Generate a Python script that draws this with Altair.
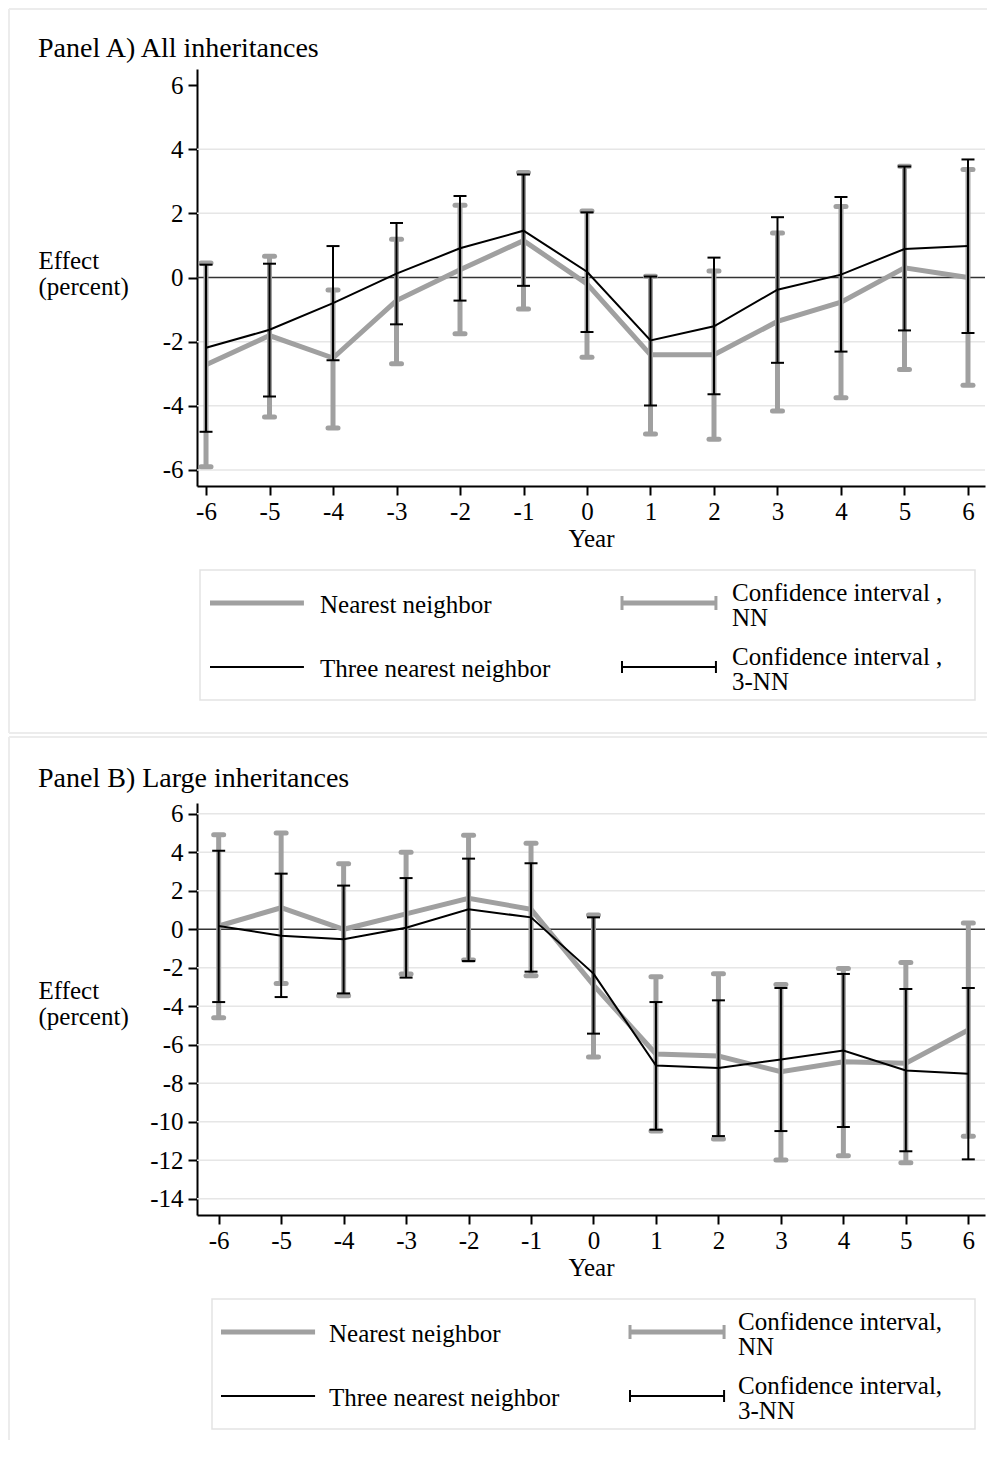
import altair as alt
import pandas as pd

# ---------------- data ----------------
years = [-6, -5, -4, -3, -2, -1, 0, 1, 2, 3, 4, 5, 6]
a_y_ticks = [-6, -4, -2, 0, 2, 4, 6]
b_y_ticks = [-14, -12, -10, -8, -6, -4, -2, 0, 2, 4, 6]
a_grid = [-6, -4, -2, 2, 4]
b_grid = [-14, -12, -10, -8, -6, -4, -2, 2, 4, 6]

# Panel A: all inheritances
a_nn = [-2.72, -1.81, -2.51, -0.72, 0.24, 1.15, -0.20, -2.41, -2.41, -1.37, -0.77, 0.30, 0.00]
a_nn_hi = [0.45, 0.66, -0.39, 1.19, 2.25, 3.27, 2.07, 0.04, 0.20, 1.39, 2.21, 3.47, 3.37]
a_nn_lo = [-5.90, -4.35, -4.69, -2.69, -1.75, -0.98, -2.49, -4.88, -5.04, -4.16, -3.75, -2.87, -3.36]
a_tnn = [-2.19, -1.63, -0.80, 0.12, 0.91, 1.46, 0.18, -1.96, -1.52, -0.38, 0.09, 0.89, 0.98]
a_tnn_hi = [0.40, 0.43, 0.98, 1.70, 2.54, 3.21, 2.03, 0.03, 0.62, 1.88, 2.51, 3.46, 3.68]
a_tnn_lo = [-4.81, -3.71, -2.58, -1.46, -0.72, -0.26, -1.70, -3.99, -3.64, -2.66, -2.31, -1.65, -1.73]

# Panel B: large inheritances
b_nn = [0.17, 1.12, 0.00, 0.80, 1.61, 1.04, -2.90, -6.48, -6.58, -7.40, -6.88, -6.96, -5.23]
b_nn_hi = [4.91, 5.00, 3.41, 4.00, 4.88, 4.47, 0.74, -2.46, -2.31, -2.87, -2.04, -1.73, 0.33]
b_nn_lo = [-4.59, -2.82, -3.45, -2.32, -1.60, -2.41, -6.63, -10.48, -10.89, -11.98, -11.76, -12.12, -10.75]
b_tnn = [0.17, -0.33, -0.52, 0.08, 1.04, 0.62, -2.30, -7.08, -7.20, -6.76, -6.30, -7.33, -7.50]
b_tnn_hi = [4.08, 2.89, 2.27, 2.66, 3.67, 3.43, 0.62, -3.78, -3.69, -3.05, -2.32, -3.10, -3.05]
b_tnn_lo = [-3.78, -3.52, -3.33, -2.51, -1.65, -2.20, -5.42, -10.41, -10.74, -10.48, -10.27, -11.53, -11.95]

a_title = "Panel A) All inheritances"
b_title = "Panel B) Large inheritances"
y_title = ["Effect", "(percent)"]
x_title = "Year"
a_legend_labels = ["Nearest neighbor", "Confidence interval ,\nNN",
                   "Three nearest neighbor", "Confidence interval ,\n3-NN"]
b_legend_labels = ["Nearest neighbor", "Confidence interval,\nNN",
                   "Three nearest neighbor", "Confidence interval,\n3-NN"]
legend_rows = [0, 0, 1, 1]
legend_cols = [0, 1, 0, 1]

# ---------------- style ----------------
GRAY = "#a0a0a0"
FONT = "Liberation Serif"
W = 788
LABEL_EXPR = "'' + datum.value"
FRAME_RIGHT = 790


def make_plot(nn, nn_lo, nn_hi, tnn, tnn_lo, tnn_hi, title, title_offset,
              xdom, ydom, yticks, grid_vals, ytitle_y, height):
    df = pd.DataFrame({"year": years, "nn": nn, "nn_lo": nn_lo, "nn_hi": nn_hi,
                       "tnn": tnn, "tnn_lo": tnn_lo, "tnn_hi": tnn_hi})
    xs = alt.Scale(domain=xdom, nice=False, zero=False)
    ys = alt.Scale(domain=ydom, nice=False, zero=False)
    xenc = alt.X("year:Q", scale=xs,
                 axis=alt.Axis(values=years, title=x_title, grid=False,
                               labelExpr=LABEL_EXPR, labelPadding=4,
                               titlePadding=2, labelFlush=False,
                               labelOverlap=False))
    yaxis = alt.Axis(values=yticks, title=y_title, titleAngle=0,
                     titleAlign="left", titleBaseline="alphabetic",
                     titleX=-159, titleY=ytitle_y, titleLineHeight=26,
                     grid=False, labelExpr=LABEL_EXPR, labelPadding=5,
                     labelFlush=False, labelOverlap=False)

    def Y(field):
        return alt.Y(f"{field}:Q", scale=ys, axis=yaxis)

    grid = (alt.Chart(pd.DataFrame({"g": grid_vals}))
            .mark_rule(color="#e6e6e6", strokeWidth=1.5)
            .encode(y=Y("g")))
    base = alt.Chart(df).encode(x=xenc)
    zero = (alt.Chart(df).transform_filter("datum.year == 0")
            .transform_calculate(z="0")
            .mark_rule(color="#333333", strokeWidth=1.5)
            .encode(y=Y("z")))

    gray_ci = base.mark_rule(color=GRAY, strokeWidth=5).encode(
        y=Y("nn_lo"), y2="nn_hi:Q")
    gcap = dict(shape="M-1,0H1", size=100, strokeWidth=5, color=GRAY,
                strokeCap="round", filled=False, opacity=1)
    gray_cap_lo = base.mark_point(**gcap).encode(y=Y("nn_lo"))
    gray_cap_hi = base.mark_point(**gcap).encode(y=Y("nn_hi"))
    gray_line = base.mark_line(color=GRAY, strokeWidth=5).encode(y=Y("nn"))

    black_ci = base.mark_rule(color="black", strokeWidth=2).encode(
        y=Y("tnn_lo"), y2="tnn_hi:Q")
    bcap = dict(shape="M-1,0H1", size=169, strokeWidth=2, color="black",
                filled=False, opacity=1)
    black_cap_lo = base.mark_point(**bcap).encode(y=Y("tnn_lo"))
    black_cap_hi = base.mark_point(**bcap).encode(y=Y("tnn_hi"))
    black_line = base.mark_line(color="black", strokeWidth=2).encode(y=Y("tnn"))

    return alt.layer(grid, zero, gray_ci, gray_cap_lo, gray_cap_hi, gray_line,
                     black_ci, black_cap_lo, black_cap_hi, black_line).properties(
        width=W, height=height,
        title=alt.TitleParams(title, offset=title_offset))


def make_legend(labels, box_left, col_range, sym_len, text_dx, height,
                border_top, border_bottom, draw_bottom):
    df = pd.DataFrame({"label": labels, "row": legend_rows,
                       "col": legend_cols, "entry": [0, 1, 2, 3]})
    xs = alt.Scale(domain=[0, 1], range=col_range)
    ys = alt.Scale(domain=[0, 1], range=[33, 97])
    base = alt.Chart(df).transform_calculate(xe=f"datum.col + {sym_len}").encode(
        x=alt.X("col:Q", scale=xs, axis=None),
        y=alt.Y("row:Q", scale=ys, axis=None))
    one = alt.Chart(df).transform_filter("datum.entry == 0")

    layers = []
    # panel frame (decoration)
    layers.append(one.mark_rule(color="#ececec", strokeWidth=2).encode(
        x=alt.value(-188), x2=alt.value(FRAME_RIGHT), y=alt.value(border_top)))
    layers.append(one.mark_rule(color="#ececec", strokeWidth=2).encode(
        x=alt.value(-188), y=alt.value(border_top), y2=alt.value(border_bottom)))
    if draw_bottom:
        layers.append(one.mark_rule(color="#ececec", strokeWidth=2).encode(
            x=alt.value(-188), x2=alt.value(FRAME_RIGHT), y=alt.value(border_bottom)))
    # legend box
    layers.append(one.mark_rect(fill="white", fillOpacity=0, stroke="#e3e3e3",
                                strokeWidth=1.5).encode(
        x=alt.value(box_left), x2=alt.value(778), y=alt.value(0), y2=alt.value(130)))
    # symbols
    layers.append(base.transform_filter("datum.entry == 0")
                  .mark_rule(color=GRAY, strokeWidth=5).encode(x2="xe:Q"))
    layers.append(base.transform_filter("datum.entry == 1")
                  .mark_rule(color=GRAY, strokeWidth=5).encode(x2="xe:Q"))
    gcap = dict(shape="M0,-1V1", size=196, strokeWidth=3, color=GRAY,
                filled=False, opacity=1)
    layers.append(base.transform_filter("datum.entry == 1").mark_point(**gcap))
    layers.append(base.transform_filter("datum.entry == 1").mark_point(**gcap)
                  .encode(x=alt.X("xe:Q", scale=xs, axis=None)))
    layers.append(base.transform_filter("datum.entry == 2")
                  .mark_rule(color="black", strokeWidth=2).encode(x2="xe:Q"))
    layers.append(base.transform_filter("datum.entry == 3")
                  .mark_rule(color="black", strokeWidth=2).encode(x2="xe:Q"))
    bcap = dict(shape="M0,-1V1", size=144, strokeWidth=2, color="black",
                filled=False, opacity=1)
    layers.append(base.transform_filter("datum.entry == 3").mark_point(**bcap))
    layers.append(base.transform_filter("datum.entry == 3").mark_point(**bcap)
                  .encode(x=alt.X("xe:Q", scale=xs, axis=None)))
    # labels: single-line entries (col 0) and two-line entries (col 1)
    txt = dict(align="left", baseline="middle", dx=text_dx, font=FONT,
               fontSize=25, lineHeight=25, lineBreak="\n", color="black")
    layers.append(base.transform_filter("datum.col == 0")
                  .mark_text(dy=2, **txt).encode(text="label:N"))
    layers.append(base.transform_filter("datum.col == 1")
                  .mark_text(dy=-10, **txt).encode(text="label:N"))
    return alt.layer(*layers).properties(width=W, height=height)


plot_a = make_plot(a_nn, a_nn_lo, a_nn_hi, a_tnn, a_tnn_lo, a_tnn_hi, a_title, 6,
                   [-6.142, 6.268], [-6.5, 6.5], a_y_ticks, a_grid, 199, 417)
leg_a = make_legend(a_legend_labels, 3, [13, 425], 0.228, 110, 149,
                    -561, 163, True)
plot_b = make_plot(b_nn, b_nn_lo, b_nn_hi, b_tnn, b_tnn_lo, b_tnn_hi, b_title, 9,
                   [-6.347, 6.267], [-14.84, 6.56], b_y_ticks, b_grid, 195, 412)
leg_b = make_legend(b_legend_labels, 15, [24, 433], 0.23, 108, 130,
                    -562, 141, False)

chart = (alt.vconcat(plot_a, leg_a, plot_b, leg_b, spacing=84, bounds="flush")
         .properties(padding=0, background="white")
         .configure_view(stroke=None)
         .configure_axis(domainColor="black", domainWidth=2, tickColor="black",
                         tickWidth=2, tickSize=9, labelFont=FONT,
                         labelFontSize=25, labelColor="black", titleFont=FONT,
                         titleFontSize=25, titleFontWeight="normal",
                         titleColor="black")
         .configure_title(font=FONT, fontSize=28, fontWeight="normal",
                          color="black", anchor="start", frame="bounds"))

chart.save("out.html", embed_options={"renderer": "svg", "actions": False})
